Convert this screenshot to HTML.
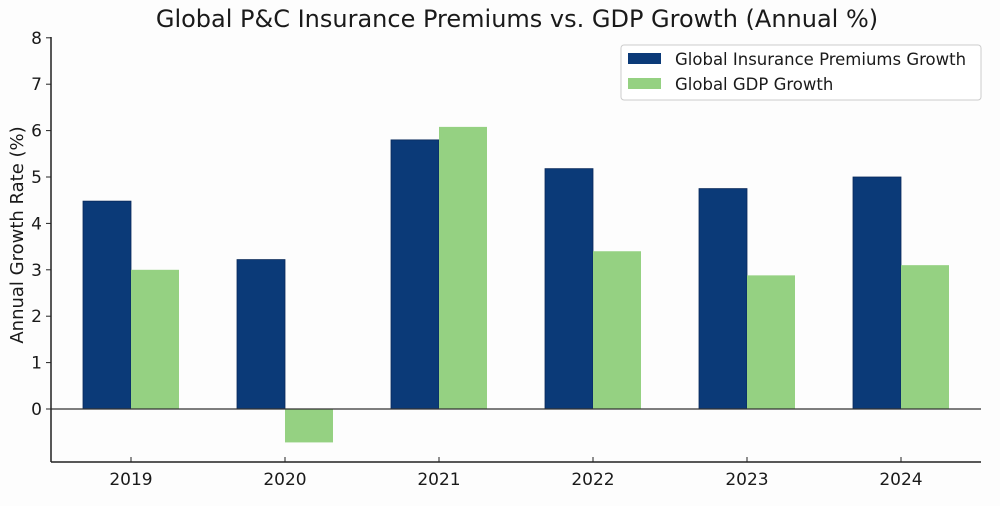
<!DOCTYPE html>
<html><head><meta charset="utf-8"><style>
body{margin:0;background:#fdfdfd;}
svg text{font-family:"DejaVu Sans","Liberation Sans",sans-serif;fill:#1a1a1a;}
</style></head><body>
<svg id="chart" width="1000" height="501" xmlns="http://www.w3.org/2000/svg">
<rect width="1000" height="501" fill="#fdfdfd"/>
<text x="517" y="27" font-size="24" text-anchor="middle">Global P&amp;C Insurance Premiums vs. GDP Growth (Annual %)</text>
<text transform="translate(23,235) rotate(-90)" font-size="18" text-anchor="middle">Annual Growth Rate (%)</text>
<g id="bars"></g><g id="ticks"></g>
<line x1="51" y1="37" x2="51" y2="462" stroke="#222" stroke-width="1.5"/>
<line x1="51" y1="462" x2="981" y2="462" stroke="#222" stroke-width="1.5"/>
<g>
<rect x="621" y="45" width="360" height="55" rx="3" fill="#fff" stroke="#ccc"/>
<rect x="628" y="53" width="33" height="11" fill="#0b3a78"/>
<text x="675" y="65" font-size="16.5">Global Insurance Premiums Growth</text>
<rect x="628" y="78" width="33" height="11" fill="#95d182"/>
<text x="675" y="90" font-size="16.5">Global GDP Growth</text>
</g>
</svg>
<script>
const categories=["2019","2020","2021","2022","2023","2024"];
const premiums=[4.48,3.22,5.8,5.18,4.75,5.0];
const gdp=[3.0,-0.72,6.08,3.4,2.88,3.1];
const yTicks=[0,1,2,3,4,5,6,7,8];
const NS="http://www.w3.org/2000/svg";
const y=v=>409-v*46.4;
const xc=i=>131+i*154;
const bw=48;
const bars=document.getElementById('bars'),ticks=document.getElementById('ticks');
function mk(t,a,p){const e=document.createElementNS(NS,t);for(const k in a)e.setAttribute(k,a[k]);p.appendChild(e);return e;}
categories.forEach((c,i)=>{
  [[premiums,-bw,"#0b3a78","premiums"],[gdp,0,"#95d182","gdp"]].forEach(([arr,off,col,nm])=>{
    const v=arr[i];
    const r=mk('rect',{x:xc(i)+off,y:Math.min(y(v),y(0)),width:bw,height:Math.abs(y(v)-y(0)),fill:col,stroke:nm==="premiums"?"#08295a":"none","stroke-width":0.8},bars);
    
    
  });
  const tk=mk('line',{x1:xc(i),x2:xc(i),y1:462,y2:457,stroke:"#222"},ticks);
  
  
  const t=mk('text',{x:xc(i),y:485,"font-size":17,"text-anchor":"middle"},ticks);
  t.textContent=c;
  
  
});
const zl=mk('line',{x1:51,x2:981,y1:y(0),y2:y(0),stroke:"#333","stroke-width":1.2},bars);


yTicks.forEach(v=>{
  const l=mk('line',{x1:46,x2:51,y1:y(v),y2:y(v),stroke:"#222"},ticks);
  
  
  const t=mk('text',{x:42,y:y(v)+6,"font-size":17,"text-anchor":"end"},ticks);
  t.textContent=v;
  
  
});
</script>
</body></html>
